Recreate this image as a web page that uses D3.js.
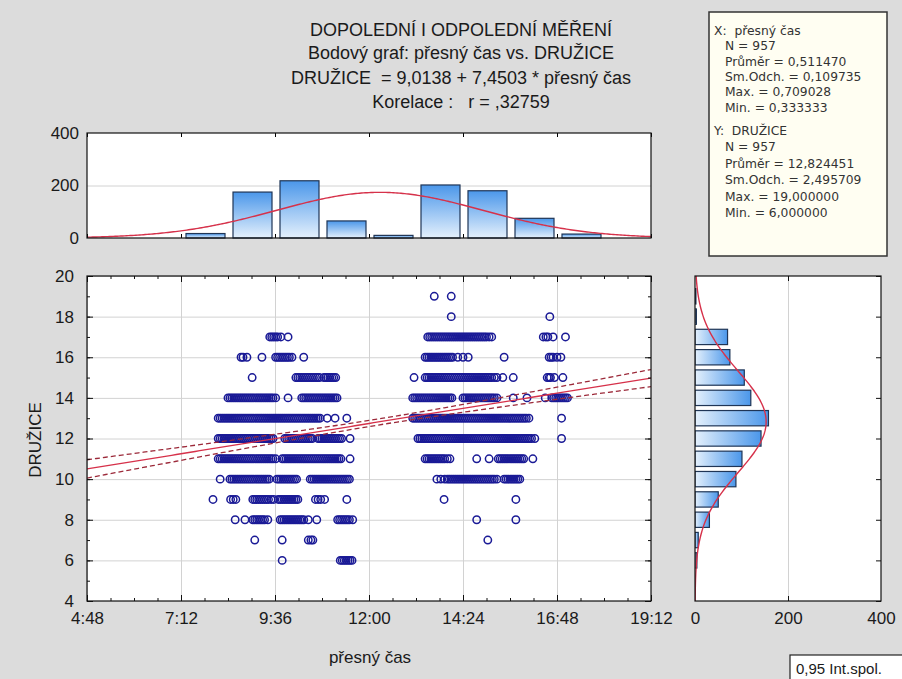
<!DOCTYPE html>
<html><head><meta charset="utf-8">
<script src="https://cdn.jsdelivr.net/npm/d3@7"></script>
<style>
body{margin:0;background:#dcdcdc}
svg{display:block}
text{font-family:Arial,"Liberation Sans",sans-serif;fill:#1a1a1a;white-space:pre}
text.stat{font-family:"DejaVu Sans",Arial,sans-serif}
</style>
</head><body>
<svg id="c" width="902" height="679"></svg>
<script>
// ---------------- DATA ----------------
const titleLines = ["DOPOLEDNÍ I ODPOLEDNÍ MĚŘENÍ","Bodový graf: přesný čas vs. DRUŽICE","DRUŽICE  = 9,0138 + 7,4503 * přesný čas","Korelace :   r = ,32759"];
const statsX = ["X:  přesný čas","N = 957","Průměr = 0,511470","Sm.Odch. = 0,109735","Max. = 0,709028","Min. = 0,333333"];
const statsY = ["Y:  DRUŽICE","N = 957","Průměr = 12,824451","Sm.Odch. = 2,495709","Max. = 19,000000","Min. = 6,000000"];
const xTickValues = [0.2,0.3,0.4,0.5,0.6,0.7,0.8];
const xTickLabels = ["4:48","7:12","9:36","12:00","14:24","16:48","19:12"];
const yTickValues = [4,6,8,10,12,14,16,18,20];
const histTopTicks = [0,200,400];
const histRightTicks = [0,200,400];
// regression & stats
const regA = 9.0138, regB = 7.4503;
const nObs = 957;
const meanX = 0.511470, sdX = 0.109735, meanY = 12.824451, sdY = 2.495709, corrR = 0.32759;
// top histogram (přesný čas), bins 1:12 wide starting at 7:12
const topBinStart = ["7:12","8:24","9:36","10:48","12:00","13:12","14:24","15:36","16:48"];
const topBinCounts = [17,175,218,65,10,202,180,75,15];
// right histogram (DRUŽICE) values and counts
const rightBinValues = [6,7,8,9,10,11,12,13,14,15,16,17,18,19];
const rightBinCounts = [4,7,31,50,88,101,142,158,120,106,75,70,3,2];
// scatter points: time of measurement for each DRUŽICE value
const times19 = ["13:40","14:06"];
const times18 = ["14:06","16:37"];
const times17 = ["9:28","9:31","9:34","9:37","9:40","9:45","9:56",
 "13:30","13:33","13:36","13:39","13:42","13:45","13:48","13:51","13:54","13:57","14:00","14:03","14:06","14:09","14:12","14:15","14:18","14:21","14:24","14:27","14:30","14:33","14:36","14:39","14:42","14:45","14:48","14:51","14:54","14:57","15:00","15:04","15:08",
 "16:27","16:31","16:34","16:42","17:01"];
const times16 = ["8:44","8:47","8:53","9:16","9:37","9:40","9:43","9:46","9:49","9:52","9:55","9:58","10:02","10:20",
 "13:26","13:29","13:32","13:35","13:38","13:41","13:44","13:47","13:50","13:53","13:56","13:59","14:02","14:05","14:08","14:16","14:24","14:32","15:27","16:36","16:39","16:42","16:48","16:54"];
const times15 = ["9:01","10:08","10:11","10:14","10:17","10:20","10:23","10:26","10:29","10:32","10:35","10:38","10:41","10:44","10:51","10:54","10:57","11:00","11:03","11:06","11:09",
 "13:09","13:26","13:29","13:32","13:35","13:38","13:41","13:44","13:47","13:50","13:53","13:56","13:59","14:02","14:05","14:08","14:11","14:14","14:17","14:20","14:23","14:26","14:29","14:32","14:35","14:38","14:41","14:44","14:47","14:50","14:53","14:56","14:59","15:02","15:05","15:08","15:12","15:16",
 "15:25","15:41","16:33","16:36","16:38","16:44","16:57"];
const times14 = ["8:24","8:27","8:30","8:33","8:36","8:39","8:42","8:45","8:48","8:51","8:54","8:57","9:00","9:03","9:06","9:09","9:12","9:15","9:18","9:21","9:24","9:27","9:30","9:33","9:37","9:56",
 "10:17","10:20","10:23","10:26","10:29","10:32","10:35","10:38","10:41","10:44","10:47","10:50","10:53","10:56","10:59","11:02","11:05","11:08","11:11",
 "13:07","13:10","13:13","13:16","13:19","13:22","13:25","13:28","13:31","13:34","13:37","13:40","13:43","13:46","13:49","13:52","13:55","13:58","14:01","14:04","14:07",
 "14:24","14:27","14:30","14:33","14:36","14:39","14:42","14:45","14:48","14:51","14:54","14:57","15:00","15:03","15:06","15:09","15:12","15:16",
 "15:41","16:02","16:30","16:40","16:43","16:46","16:49","16:52","16:55","16:58","17:01","17:04"];
const times13 = ["8:09","8:12","8:15","8:18","8:21","8:24","8:27","8:30","8:33","8:36","8:39","8:42","8:45","8:48","8:51","8:54","8:57","9:00","9:03","9:06","9:09","9:12","9:15","9:18","9:21","9:24","9:27","9:30","9:33","9:36","9:39","9:42","9:45","9:48","9:51","9:54","9:57","10:00","10:03","10:06","10:09","10:12","10:15","10:18","10:21","10:24","10:27","10:30","10:33","10:36","10:39","10:42","10:45",
 "10:56","11:08","11:26",
 "13:07","13:10","13:13","13:16","13:19","13:22","13:25","13:28","13:31","13:34","13:37","13:40","13:43","13:46","13:49","13:52","13:55","13:58","14:01","14:04","14:07","14:10","14:13","14:16","14:19","14:22","14:25","14:28","14:31","14:34","14:37","14:40","14:43","14:46","14:49","14:52","14:55","14:58","15:01","15:04","15:07","15:10","15:13","15:16","15:19","15:22","15:25","15:28","15:31","15:34","15:37","15:40","15:43","15:46","15:49","15:52","15:55","15:58","16:01","16:05",
 "16:55"];
const times12 = ["8:09","8:12","8:15","8:18","8:21","8:24","8:27","8:30","8:33","8:36","8:39","8:42","8:45","8:48","8:51","8:54","8:57","9:00","9:03","9:06","9:09","9:12","9:15","9:18","9:21","9:24","9:27","9:30","9:33",
 "9:51","9:54","9:57","10:00","10:03","10:06","10:09","10:12","10:15","10:18","10:21","10:24","10:27","10:30","10:33",
 "10:42","10:45","10:48","10:51","10:54","10:57","11:00","11:03","11:06","11:09","11:12","11:15","11:18","11:31",
 "13:15","13:18","13:21","13:24","13:27","13:30","13:33","13:36","13:39","13:42","13:45","13:48","13:51","13:54","13:57","14:00","14:03","14:06","14:09","14:12","14:15","14:18","14:21","14:24","14:27","14:30","14:33","14:36","14:39","14:42","14:45","14:48","14:51","14:54","14:57","15:00","15:03","15:06","15:09","15:12","15:15","15:18","15:21","15:24","15:27","15:30","15:33","15:36","15:39","15:42","15:45","15:48","15:51","15:54","15:57","16:00","16:03","16:06","16:09","16:14",
 "16:55"];
const times11 = ["8:09","8:12","8:15","8:18","8:21","8:24","8:27","8:30","8:33","8:36","8:39","8:42","8:45","8:48","8:51","8:54","8:57","9:00","9:03","9:06","9:09","9:12","9:15","9:18","9:21","9:24","9:27","9:30","9:33","9:37",
 "9:47","9:50","9:53","9:56","9:59","10:02","10:05","10:08","10:11","10:14","10:17","10:20","10:23","10:26","10:29","10:32","10:35","10:38","10:41","10:44","10:47","10:50","10:53","10:56","10:59","11:02","11:05","11:08","11:11","11:14","11:17","11:31",
 "13:26","13:29","13:32","13:35","13:38","13:41","13:44","13:47","13:50","13:53","13:56","14:00","14:04","14:45","15:04",
 "15:18","15:21","15:24","15:27","15:30","15:33","15:36","15:39","15:42","15:45","15:48","15:51","15:54","15:57","16:11"];
const times10 = ["8:12","8:27","8:30","8:33","8:36","8:39","8:42","8:45","8:48","8:51","8:54","8:57","9:00","9:03","9:06","9:09","9:12","9:15","9:18","9:21","9:24","9:27",
 "9:39","9:42","9:45","9:48","9:51","9:54","9:57","10:00","10:03","10:06","10:09",
 "10:30","10:33","10:36","10:39","10:42","10:45","10:48","10:51","10:54","10:57","11:00","11:03","11:06","11:09","11:12","11:15","11:18","11:21","11:24","11:27","11:30",
 "13:44","13:50","13:56","14:00","14:03","14:06","14:09","14:12","14:15","14:18","14:21","14:24","14:27","14:30","14:33","14:36","14:39","14:42","14:45","14:48","14:51","14:54","14:57","15:00","15:03","15:06","15:09","15:12","15:16",
 "15:27","15:30","15:33","15:36","15:39","15:42","15:45","15:48","15:51"];
const times9 = ["8:01","8:28","8:32","8:36","9:02","9:05","9:08","9:11","9:14","9:17","9:20","9:23","9:26","9:30","9:34",
 "9:41","9:44","9:47","9:50","9:53","9:56","9:59","10:02","10:05","10:08","10:11","10:38","10:42","10:46","10:52","11:26","13:55","15:45"];
const times8 = ["8:35","8:50","9:02","9:05","9:08","9:11","9:14","9:17","9:20","9:25",
 "9:44","9:47","9:50","9:53","9:56","9:59","10:02","10:05","10:08","10:11","10:14","10:17","10:20","10:27","10:40",
 "11:12","11:15","11:18","11:21","11:24","11:27","11:30","11:35","14:45","15:45"];
const times7 = ["9:05","9:47","10:27","10:31","10:34","15:02"];
const times6 = ["9:47","11:16","11:19","11:22","11:25","11:28","11:31","11:34"];
const pointRows = [[19,times19],[18,times18],[17,times17],[16,times16],[15,times15],[14,times14],[13,times13],[12,times12],[11,times11],[10,times10],[9,times9],[8,times8],[7,times7],[6,times6]];

// ---------------- DRAW ----------------
const toDay = s => { const [h,m] = s.split(":").map(Number); return (h*60+m)/1440; };
const svg = d3.select("#c");
const C = {frame:"#111", grid:"#d2d2d2", red:"#d6314a", dred:"#9c2a3a", pt:"#1a1a96", bar:"#1f3556"};

const x = d3.scaleLinear().domain([0.2,0.8]).range([87,651]);
const y = d3.scaleLinear().domain([4,20]).range([601,276]);
const hy = d3.scaleLinear().domain([0,400]).range([238,133]);
const rx = d3.scaleLinear().domain([0,400]).range([695,881]);

const defs = svg.append("defs");
const gv = defs.append("linearGradient").attr("id","gv").attr("x1",0).attr("y1",0).attr("x2",0).attr("y2",1);
gv.append("stop").attr("offset","0%").attr("stop-color","#4b97ea");
gv.append("stop").attr("offset","100%").attr("stop-color","#e4f0fc");
const gh = defs.append("linearGradient").attr("id","gh").attr("x1",0).attr("y1",0).attr("x2",1).attr("y2",0);
gh.append("stop").attr("offset","0%").attr("stop-color","#e4f0fc");
gh.append("stop").attr("offset","100%").attr("stop-color","#4b97ea");
defs.append("clipPath").attr("id","clipS").append("rect").attr("x",87).attr("y",276).attr("width",564).attr("height",325);
defs.append("clipPath").attr("id","clipT").append("rect").attr("x",87).attr("y",133).attr("width",564).attr("height",105);
defs.append("clipPath").attr("id","clipR").append("rect").attr("x",695).attr("y",276).attr("width",186).attr("height",325);

// Titles
const titleY = [36,59,84,108];
titleLines.forEach((t,i)=> svg.append("text").attr("x",461).attr("y",titleY[i]).attr("text-anchor","middle").attr("font-size",18).text(t));

// Stats box
svg.append("rect").attr("x",709).attr("y",12).attr("width",178).attr("height",244).attr("fill","#fffef2").attr("stroke","#333").attr("stroke-width",1.5);
statsX.forEach((t,i)=> svg.append("text").attr("class","stat").attr("x", i===0?714:725).attr("y",35+i*15.3).attr("font-size",12.3).style("fill","#333").text(t));
statsY.forEach((t,i)=> svg.append("text").attr("class","stat").attr("x", i===0?714:725).attr("y",135+i*16.4).attr("font-size",12.3).style("fill","#333").text(t));

// ---------- Top histogram ----------
svg.append("rect").attr("x",87).attr("y",133).attr("width",564).attr("height",105).attr("fill","#fff");
svg.append("g").attr("transform","translate(87,0)").call(d3.axisLeft(hy).tickValues([200]).tickSize(-564).tickFormat(""))
  .call(g=>{g.select(".domain").remove(); g.selectAll("line").attr("stroke",C.grid);});
const binW = 72/1440;
svg.append("g").selectAll("rect").data(topBinStart).join("rect")
  .attr("x",(d)=>x(toDay(d))+5).attr("width",d=>x(toDay(d)+binW)-x(toDay(d))-8)
  .attr("y",(d,i)=>hy(topBinCounts[i])).attr("height",(d,i)=>hy(0)-hy(topBinCounts[i]))
  .attr("fill","url(#gv)").attr("stroke",C.bar).attr("stroke-width",1.2);
const pdf = (v,m,s)=> Math.exp(-0.5*((v-m)/s)**2)/(s*Math.sqrt(2*Math.PI));
const topCurve = d3.range(0.2,0.8001,0.002).map(v=>[v, nObs*binW*pdf(v,meanX,sdX)]);
svg.append("path").datum(topCurve).attr("clip-path","url(#clipT)")
  .attr("d",d3.line().x(d=>x(d[0])).y(d=>hy(d[1])))
  .attr("fill","none").attr("stroke",C.red).attr("stroke-width",1.4);
svg.append("g").attr("transform","translate(0,238)").call(d3.axisTop(x).tickValues(xTickValues).tickSize(4).tickFormat(""))
  .call(g=>g.select(".domain").remove());
svg.append("g").attr("transform","translate(0,133)").call(d3.axisBottom(x).tickValues(xTickValues).tickSize(4).tickFormat(""))
  .call(g=>g.select(".domain").remove());
svg.append("g").attr("transform","translate(87,0)").call(d3.axisLeft(hy).tickValues(histTopTicks).tickSize(0).tickPadding(8))
  .call(g=>{g.select(".domain").remove(); g.selectAll("text").attr("font-size",17).style("fill","#1a1a1a");});
svg.append("rect").attr("x",87).attr("y",133).attr("width",564).attr("height",105).attr("fill","none").attr("stroke",C.frame).attr("stroke-width",1.2);

// ---------- Scatter ----------
svg.append("rect").attr("x",87).attr("y",276).attr("width",564).attr("height",325).attr("fill","#fff");
svg.append("g").attr("transform","translate(0,601)").call(d3.axisBottom(x).tickValues(xTickValues).tickSize(-325).tickFormat(""))
  .call(g=>{g.select(".domain").remove(); g.selectAll("line").attr("stroke",C.grid);});
svg.append("g").attr("transform","translate(87,0)").call(d3.axisLeft(y).tickValues(yTickValues).tickSize(-564).tickFormat(""))
  .call(g=>{g.select(".domain").remove(); g.selectAll("line").attr("stroke",C.grid);});

const Sxx = (nObs-1)*sdX*sdX;
const sRes = sdY*Math.sqrt((1-corrR*corrR)*(nObs-1)/(nObs-2));
const tCrit = 1.9625;
const band = d3.range(0.2,0.8001,0.005).map(v=>{
  const yh = regA+regB*v; const se = sRes*Math.sqrt(1/nObs + (v-meanX)**2/Sxx);
  return {v, yh, lo:yh-tCrit*se, hi:yh+tCrit*se};
});
const sg = svg.append("g").attr("clip-path","url(#clipS)");
const pts = [];
pointRows.forEach(([val,arr])=> arr.forEach(t=>pts.push({t:toDay(t), v:val})));
sg.append("g").selectAll("circle").data(pts).join("circle")
  .attr("cx",d=>x(d.t)).attr("cy",d=>y(d.v)).attr("r",3.7)
  .attr("fill","none").attr("stroke",C.pt).attr("stroke-width",1.5);
sg.append("path").datum(band).attr("d",d3.line().x(d=>x(d.v)).y(d=>y(d.yh)))
  .attr("fill","none").attr("stroke",C.red).attr("stroke-width",1.3);
["lo","hi"].forEach(k=> sg.append("path").datum(band).attr("d",d3.line().x(d=>x(d.v)).y(d=>y(d[k])))
  .attr("fill","none").attr("stroke",C.dred).attr("stroke-width",1.3).attr("stroke-dasharray","5,3"));

const xMinor = d3.range(0.2,0.8001,0.025);
const yMinor = d3.range(4,20.001,1);
const inward = (axis, tr)=> svg.append("g").attr("transform",tr).call(axis).call(g=>{g.select(".domain").remove(); g.selectAll("line").attr("stroke","#111");});
inward(d3.axisTop(x).tickValues(xMinor).tickSize(3).tickFormat(""), "translate(0,601)");
inward(d3.axisTop(x).tickValues(xTickValues).tickSize(6).tickFormat(""), "translate(0,601)");
inward(d3.axisBottom(x).tickValues(xMinor).tickSize(3).tickFormat(""), "translate(0,276)");
inward(d3.axisBottom(x).tickValues(xTickValues).tickSize(6).tickFormat(""), "translate(0,276)");
inward(d3.axisRight(y).tickValues(yMinor).tickSize(3).tickFormat(""), "translate(87,0)");
inward(d3.axisRight(y).tickValues(yTickValues).tickSize(6).tickFormat(""), "translate(87,0)");
inward(d3.axisLeft(y).tickValues(yMinor).tickSize(3).tickFormat(""), "translate(651,0)");
inward(d3.axisLeft(y).tickValues(yTickValues).tickSize(6).tickFormat(""), "translate(651,0)");

svg.append("g").attr("transform","translate(0,601)").call(d3.axisBottom(x).tickValues(xTickValues).tickSize(0).tickPadding(11).tickFormat((d,i)=>xTickLabels[i]))
  .call(g=>{g.select(".domain").remove(); g.selectAll("text").attr("font-size",17).style("fill","#1a1a1a");});
svg.append("g").attr("transform","translate(87,0)").call(d3.axisLeft(y).tickValues(yTickValues).tickSize(0).tickPadding(13))
  .call(g=>{g.select(".domain").remove(); g.selectAll("text").attr("font-size",17).style("fill","#1a1a1a");});
svg.append("rect").attr("x",87).attr("y",276).attr("width",564).attr("height",325).attr("fill","none").attr("stroke",C.frame).attr("stroke-width",1.2);
svg.append("text").attr("x",370).attr("y",663).attr("text-anchor","middle").attr("font-size",17).text("přesný čas");
svg.append("text").attr("transform","translate(41,440) rotate(-90)").attr("text-anchor","middle").attr("font-size",17).text("DRUŽICE");

// ---------- Right histogram ----------
svg.append("rect").attr("x",695).attr("y",276).attr("width",186).attr("height",325).attr("fill","#fff");
svg.append("g").attr("transform","translate(0,601)").call(d3.axisBottom(rx).tickValues([200]).tickSize(-325).tickFormat(""))
  .call(g=>{g.select(".domain").remove(); g.selectAll("line").attr("stroke",C.grid);});
const rg = svg.append("g").attr("clip-path","url(#clipR)");
rg.selectAll("rect").data(rightBinValues).join("rect")
  .attr("x",rx(0)).attr("width",(d,i)=>rx(rightBinCounts[i])-rx(0))
  .attr("y",d=>y(d+0.5)+2.5).attr("height",d=>y(d-0.5)-y(d+0.5)-5)
  .attr("fill","url(#gh)").attr("stroke",C.bar).attr("stroke-width",1.2);
const rCurve = d3.range(4,20.001,0.05).map(v=>[v, nObs*pdf(v,meanY,sdY)]);
rg.append("path").datum(rCurve).attr("d",d3.line().x(d=>rx(d[1])).y(d=>y(d[0])))
  .attr("fill","none").attr("stroke",C.red).attr("stroke-width",1.4);
inward(d3.axisLeft(y).tickValues(yTickValues).tickSize(5).tickFormat(""), "translate(881,0)");
inward(d3.axisTop(rx).tickValues([200]).tickSize(5).tickFormat(""), "translate(0,601)");
inward(d3.axisBottom(rx).tickValues([200]).tickSize(5).tickFormat(""), "translate(0,276)");
svg.append("g").attr("transform","translate(0,601)").call(d3.axisBottom(rx).tickValues(histRightTicks).tickSize(0).tickPadding(11))
  .call(g=>{g.select(".domain").remove(); g.selectAll("text").attr("font-size",17).style("fill","#1a1a1a");});
svg.append("rect").attr("x",695).attr("y",276).attr("width",186).attr("height",325).attr("fill","none").attr("stroke",C.frame).attr("stroke-width",1.2);

// ---------- legend box ----------
svg.append("rect").attr("x",790).attr("y",655).attr("width",130).attr("height",28).attr("fill","#fff").attr("stroke","#222").attr("stroke-width",1.2);
svg.append("text").attr("x",796).attr("y",674).attr("font-size",15).text("0,95 Int.spol.");
</script>
</body></html>
